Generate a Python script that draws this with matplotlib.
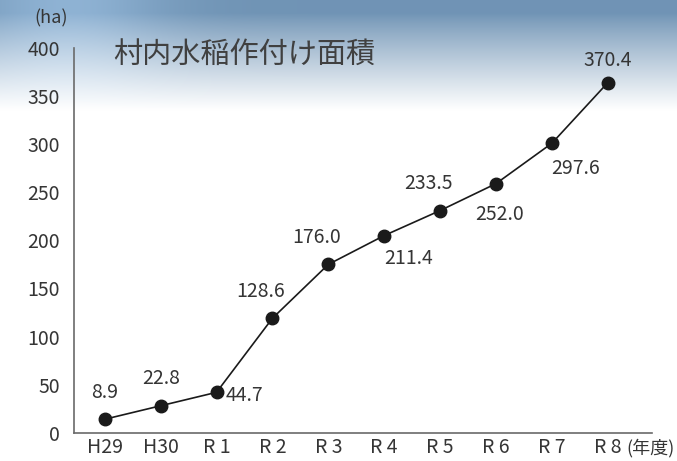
import numpy as np
import matplotlib.pyplot as plt

plt.rcParams['font.family'] = ['Noto Sans CJK JP', 'DejaVu Sans']

# Data
YEARS = ['H29', 'H30', 'R 1', 'R 2', 'R 3', 'R 4', 'R 5', 'R 6', 'R 7', 'R 8']
# plotted heights (ha)
AREA = [14, 28, 42, 119, 175, 205, 231, 259, 301, 364]
# printed value labels
AREA_LABELS = ['8.9', '22.8', '44.7', '128.6', '176.0', '211.4', '233.5', '252.0', '297.6', '370.4']
Y_TICKS = [0, 50, 100, 150, 200, 250, 300, 350, 400]

# label offsets in pixels from each point
LABEL_OFFSETS = [(0, 27), (0, 27), (28, -3), (-12, 27), (-12, 27),
                 (24, -23), (-12, 27), (4, -31), (24, -25), (0, 22)]

TEXT_COL = "#353535"
SPINE_COL = "#6a6a6a"

fig = plt.figure(figsize=(6.77, 4.61), dpi=100)

# sky-like gradient background
bg = fig.add_axes([0, 0, 1, 1], zorder=0)
bg.axis('off')
h = 461
t = np.linspace(0, 1, h)[:, None]
top = np.array([0.44, 0.58, 0.71])
white = np.array([1.0, 1.0, 1.0])
fade = np.clip((t - 0.03) / 0.21, 0, 1) ** 0.9
grad = top[None, None, :] * (1 - fade[..., None]) + white[None, None, :] * fade[..., None]
grad = np.repeat(grad, 677, axis=1)
xx = np.linspace(0, 1, 677)[None, :, None]
light = 0.12 * np.exp(-((xx - 0.1) ** 2) / 0.02) * (1 - fade[..., None])
grad = np.clip(grad + light, 0, 1)
bg.imshow(grad, aspect='auto', extent=[0, 1, 0, 1])
bg.set_xlim(0, 1)
bg.set_ylim(0, 1)

ax = fig.add_axes([74 / 677, 1 - 432.7 / 461, (652 - 74) / 677, (432.7 - 48) / 461], zorder=1)
ax.patch.set_alpha(0)

x = np.arange(len(YEARS))
ax.plot(x, AREA, color='#1a1a1a', linewidth=1.2, marker='o', markersize=9, zorder=3)

for i in range(len(YEARS)):
    ax.annotate(AREA_LABELS[i], (x[i], AREA[i]), xytext=LABEL_OFFSETS[i],
                textcoords='offset pixels', ha='center', va='center',
                fontsize=14, color=TEXT_COL)

ax.set_xlim(-0.55, 9.79)
ax.set_ylim(0, 400)
ax.set_xticks(x)
ax.set_xticklabels(YEARS)
ax.set_yticks(Y_TICKS)
ax.tick_params(length=0, labelsize=14, colors=TEXT_COL)
ax.tick_params(axis='y', pad=10)
ax.tick_params(axis='x', pad=3)

for side in ['top', 'right']:
    ax.spines[side].set_visible(False)
for side in ['left', 'bottom']:
    ax.spines[side].set_color(SPINE_COL)
    ax.spines[side].set_linewidth(1.2)

# titles and units
fig.text(113 / 677, 1 - 55 / 461, '村内水稲作付け面積', fontsize=21, color='#404040',
         ha='left', va='center')
fig.text(51 / 677, 1 - 18 / 461, '(ha)', fontsize=13, color=TEXT_COL,
         ha='center', va='center')
fig.text(626 / 677, 1 - 448 / 461, '(年度)', fontsize=13, color=TEXT_COL,
         ha='left', va='center')

fig.savefig('out.png', dpi=100)
